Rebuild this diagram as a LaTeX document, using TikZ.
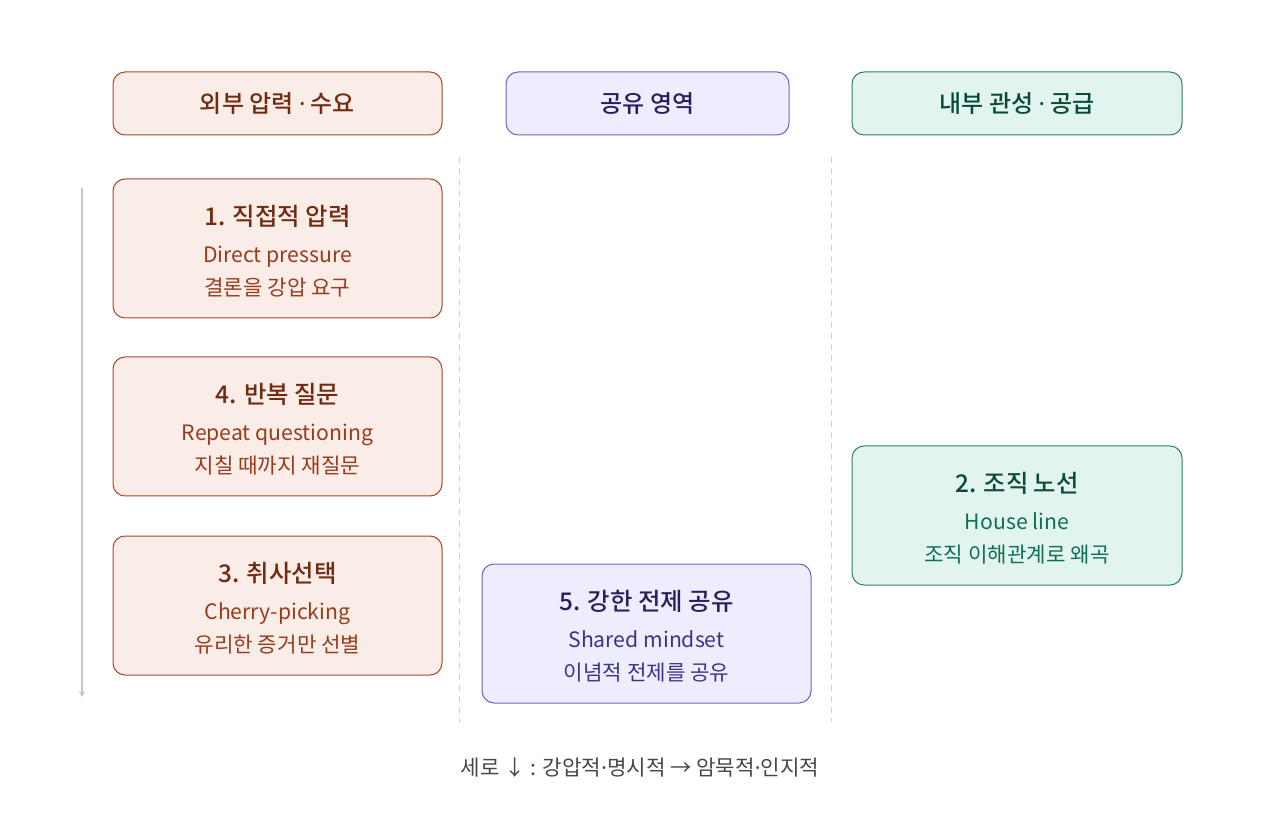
\documentclass[tikz,border=0pt]{standalone}
\usepackage{fontspec}
\setmainfont{Noto Sans CJK KR}
\newfontfamily\medfont{Noto Sans CJK KR Medium}
\newfontfamily\dotfont{Noto Sans}
\usepackage{tikz}
\usetikzlibrary{arrows.meta}

\definecolor{extfill}{HTML}{FAECE7}
\definecolor{extline}{HTML}{A8492A}
\definecolor{extdark}{HTML}{712B13}
\definecolor{exttext}{HTML}{993C1D}
\definecolor{shrfill}{HTML}{EEEDFE}
\definecolor{shrline}{HTML}{6A62C8}
\definecolor{shrdark}{HTML}{26215C}
\definecolor{shrtext}{HTML}{3C3489}
\definecolor{intfill}{HTML}{E1F5EE}
\definecolor{intline}{HTML}{2F7D66}
\definecolor{intdark}{HTML}{0A4A3C}
\definecolor{inttext}{HTML}{0F6E56}

\tikzstyle{head} = [rectangle, rounded corners=6pt, minimum height=31.5pt, line width=0.5pt, font=\fontsize{12}{14}\medfont]
\tikzstyle{card} = [rectangle, rounded corners=6pt, minimum width=164.5pt, minimum height=69.5pt, line width=0.5pt, align=center, font=\fontsize{10.6}{16.8}\selectfont]
\tikzstyle{ext} = [draw=extline, fill=extfill, text=exttext]
\tikzstyle{shr} = [draw=shrline, fill=shrfill, text=shrtext]
\tikzstyle{int} = [draw=intline, fill=intfill, text=inttext]
\tikzstyle{divider} = [draw=black!18, line width=0.5pt, dash pattern=on 3pt off 2.5pt]

\newcommand{\cardtitle}[1]{{\fontsize{12.2}{14}\medfont\rule{0pt}{12.9pt}#1}\\[1.5pt]}
\newcommand{\mdot}{{\dotfont ·}}

\begin{document}
\begin{tikzpicture}[x=0.5pt, y=-0.5pt]
\useasboundingbox (0,0) rectangle (1280,828);

% column heads
\node (outer) [head, ext, text=extdark, minimum width=164.5pt] at (277.5,103.5) {외부 압력 \mdot{} 수요};
\node (shared) [head, shr, text=shrdark, minimum width=141.5pt] at (647.5,103.5) {공유 영역};
\node (inner) [head, int, text=intdark, minimum width=165pt] at (1017,103.5) {내부 관성 \mdot{} 공급};

% dividers
\draw [divider] (459,157) -- (459,722);
\draw [divider] (831,157) -- (831,722);

% cards
\node (press) [card, ext] at (277.5,248.5) {\cardtitle{\color{extdark}1. 직접적 압력}Direct pressure\\결론을 강압 요구};
\node (repeat) [card, ext] at (277.5,426.5) {\cardtitle{\color{extdark}4. 반복 질문}Repeat questioning\\지칠 때까지 재질문};
\node (cherry) [card, ext] at (277.5,605.5) {\cardtitle{\color{extdark}3. 취사선택}Cherry-picking\\유리한 증거만 선별};
\node (mindset) [card, shr] at (646.5,633.5) {\cardtitle{\color{shrdark}5. 강한 전제 공유}Shared mindset\\이념적 전제를 공유};
\node (house) [card, int, minimum width=165pt] at (1017,515.5) {\cardtitle{\color{intdark}2. 조직 노선}House line\\조직 이해관계로 왜곡};

% vertical axis
\coordinate (axtop) at (82,188);
\coordinate (axbot) at (82,697);
\draw [black!22, line width=0.6pt, -{Stealth[length=3pt, width=3pt]}] (axtop) -- (axbot);

\node (legend) [text=black!72, font=\fontsize{10.6}{12}\selectfont] at (640,767) {세로 ↓ : 강압적\mdot{}명시적 → 암묵적\mdot{}인지적};

\end{tikzpicture}
\end{document}
